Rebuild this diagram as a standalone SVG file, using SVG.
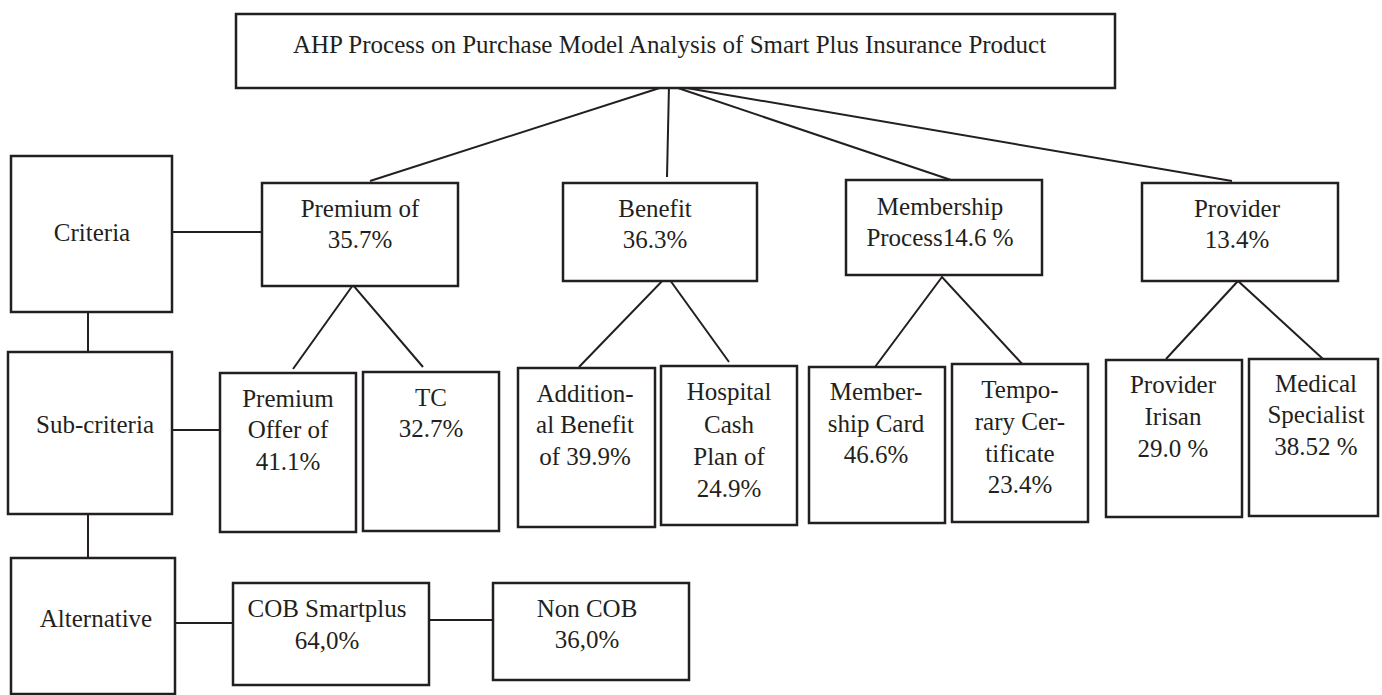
<svg xmlns="http://www.w3.org/2000/svg" width="1382" height="695" viewBox="0 0 1382 695">
<style>
.box{fill:#fff;stroke:#231f20;stroke-width:2.5}
.ln{stroke:#231f20;stroke-width:2;fill:none}
text{font-family:"Liberation Serif","Times New Roman",serif;font-size:25px;fill:#231f20;text-anchor:middle}
</style>
<rect width="1382" height="695" fill="#fff"/>
<g id="connectors">
<line class="ln" x1="669" y1="85" x2="370" y2="181"/>
<line class="ln" x1="669" y1="85" x2="667" y2="177"/>
<line class="ln" x1="669" y1="85" x2="951" y2="180"/>
<line class="ln" x1="669" y1="85" x2="1232" y2="181"/>
<line class="ln" x1="172" y1="232" x2="262" y2="232"/>
<line class="ln" x1="88" y1="312" x2="88" y2="352"/>
<line class="ln" x1="88" y1="514" x2="88" y2="558"/>
<line class="ln" x1="172" y1="430" x2="220" y2="430"/>
<line class="ln" x1="175" y1="623" x2="232" y2="623"/>
<line class="ln" x1="429" y1="620" x2="493" y2="620"/>
<polyline class="ln" points="293,369 353,285 423,367"/>
<polyline class="ln" points="579,367 667,276 729,362"/>
<polyline class="ln" points="875,367 942,277 1024,366"/>
<polyline class="ln" points="1166,359 1238,281 1323,359"/>
</g>
<g id="title"><rect class="box" x="236" y="14" width="879" height="74"/><text x="293" y="53" style="text-anchor:start">AHP Process on Purchase Model Analysis of Smart Plus Insurance Product</text></g>
<g id="criteria"><rect class="box" x="11" y="156" width="161" height="156"/><text x="92" y="241">Criteria</text></g>
<g id="subcriteria"><rect class="box" x="8" y="352" width="164" height="162"/><text x="95" y="433">Sub-criteria</text></g>
<g id="alternative"><rect class="box" x="11" y="558" width="164" height="136"/><text x="96" y="627">Alternative</text></g>
<g id="premium"><rect class="box" x="262" y="183" width="196" height="103"/><text x="360" y="217">Premium of</text><text x="360" y="248">35.7%</text></g>
<g id="benefit"><rect class="box" x="563" y="183" width="194" height="98"/><text x="655" y="217">Benefit</text><text x="655" y="248">36.3%</text></g>
<g id="membership"><rect class="box" x="846" y="180" width="196" height="95"/><text x="940" y="215">Membership</text><text x="940" y="246">Process14.6 %</text></g>
<g id="provider"><rect class="box" x="1142" y="183" width="196" height="98"/><text x="1237" y="217">Provider</text><text x="1237" y="248">13.4%</text></g>
<g id="premium-offer"><rect class="box" x="220" y="373" width="136" height="159"/><text x="288" y="407">Premium</text><text x="288" y="438">Offer of</text><text x="288" y="470">41.1%</text></g>
<g id="tc"><rect class="box" x="363" y="372" width="136" height="159"/><text x="431" y="406">TC</text><text x="431" y="437">32.7%</text></g>
<g id="additional-benefit"><rect class="box" x="518" y="368" width="137" height="159"/><text x="585" y="402">Addition-</text><text x="585" y="433">al Benefit</text><text x="585" y="465">of 39.9%</text></g>
<g id="hospital"><rect class="box" x="661" y="366" width="136" height="159"/><text x="729" y="400">Hospital</text><text x="729" y="433">Cash</text><text x="729" y="465">Plan of</text><text x="729" y="497">24.9%</text></g>
<g id="membership-card"><rect class="box" x="809" y="367" width="136" height="156"/><text x="876" y="400">Member-</text><text x="876" y="432">ship Card</text><text x="876" y="463">46.6%</text></g>
<g id="temporary"><rect class="box" x="952" y="364" width="136" height="158"/><text x="1020" y="398">Tempo-</text><text x="1020" y="430">rary Cer-</text><text x="1020" y="462">tificate</text><text x="1020" y="493">23.4%</text></g>
<g id="provider-irisan"><rect class="box" x="1106" y="360" width="136" height="157"/><text x="1173" y="393">Provider</text><text x="1173" y="425">Irisan</text><text x="1173" y="457">29.0 %</text></g>
<g id="medical"><rect class="box" x="1249" y="359" width="129" height="157"/><text x="1316" y="392">Medical</text><text x="1316" y="423">Specialist</text><text x="1316" y="455">38.52 %</text></g>
<g id="cob"><rect class="box" x="233" y="583" width="196" height="102"/><text x="327" y="617">COB Smartplus</text><text x="327" y="649">64,0%</text></g>
<g id="noncob"><rect class="box" x="493" y="583" width="196" height="97"/><text x="587" y="617">Non COB</text><text x="587" y="648">36,0%</text></g>
</svg>
